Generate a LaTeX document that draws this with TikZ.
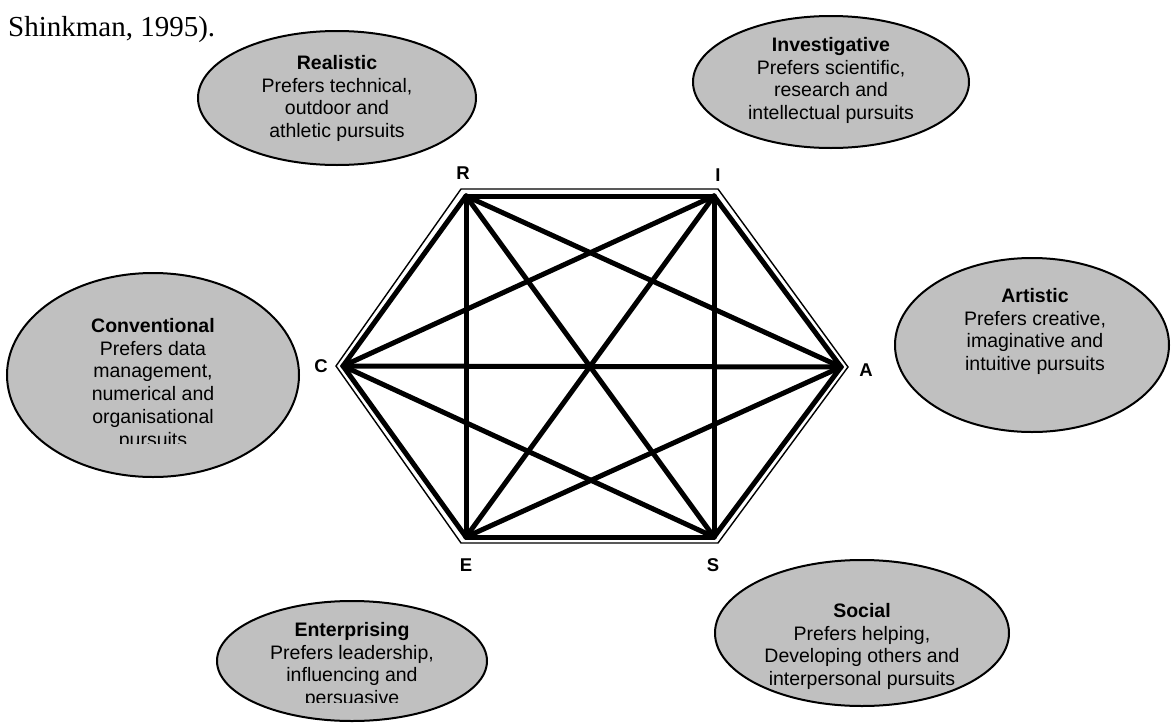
\documentclass[tikz,border=0pt]{standalone}
\usepackage{fontspec}
\setmainfont{Liberation Sans}
\newfontfamily\bodyserif{Liberation Serif}
\usetikzlibrary{shapes.geometric}
\definecolor{ellfill}{HTML}{C0C0C0}
\begin{document}
\begin{tikzpicture}[x=1pt,y=-1pt,
  ell/.style={ellipse, draw=black, line width=2pt, fill=ellfill, inner sep=0pt},
  etext/.style={align=center, inner sep=0pt, anchor=north, font=\fontsize{19.5}{22.8}\selectfont},
  vlabel/.style={font=\bfseries\fontsize{18.5}{20}\selectfont, inner sep=0pt},
  hexedge/.style={line width=5pt, line cap=round},
  hexoutline/.style={line width=1.4pt, line join=miter}]
\useasboundingbox (0,0) rectangle (1171,723);

% body text fragment
\node[anchor=base west, inner sep=0pt, font=\bodyserif\fontsize{29}{34}\selectfont] (cite) at (8,36) {Shinkman, 1995).};

% ellipses
\node[ell, minimum width=278pt, minimum height=134pt] (eR) at (337,98) {};
\node[ell, minimum width=276pt, minimum height=132pt] (eI) at (831,82) {};
\node[ell, minimum width=274pt, minimum height=174pt] (eA) at (1032,345) {};
\node[ell, minimum width=292pt, minimum height=204pt] (eC) at (153,375) {};
\node[ell, minimum width=270pt, minimum height=120pt] (eE) at (352,661) {};
\node[ell, minimum width=294pt, minimum height=146pt] (eS) at (862,633) {};

% ellipse texts
\node[etext] (tR) at (337,55) {\textbf{Realistic}\\Prefers technical,\\outdoor and\\athletic pursuits};
\node[etext] (tI) at (831,37) {\textbf{Investigative}\\Prefers scientific,\\research and\\intellectual pursuits};
\node[etext] (tA) at (1035,288) {\textbf{Artistic}\\Prefers creative,\\imaginative and\\intuitive pursuits};
\begin{scope}
\clip (0,250) rectangle (320,443);
\node[etext] (tC) at (153,318) {\textbf{Conventional}\\Prefers data\\management,\\numerical and\\organisational\\pursuits};
\end{scope}
\begin{scope}
\clip (200,590) rectangle (500,702);
\node[etext] (tE) at (352,622) {\textbf{Enterprising}\\Prefers leadership,\\influencing and\\persuasive};
\end{scope}
\node[etext] (tS) at (862,603) {\textbf{Social}\\Prefers helping,\\Developing others and\\interpersonal pursuits};

% hexagon vertices (thick lines)
\coordinate (R) at (466,196);
\coordinate (I) at (714,196);
\coordinate (A) at (841,367);
\coordinate (S) at (714,537);
\coordinate (E) at (466,537);
\coordinate (C) at (343,366);
% outer thin hexagon
\coordinate (Ro) at (461,189);
\coordinate (Io) at (718,189);
\coordinate (Ao) at (848,367);
\coordinate (So) at (718,543);
\coordinate (Eo) at (461,543);
\coordinate (Co) at (336,366);

\draw[hexoutline] (Ro) -- (Io) -- (Ao) -- (So) -- (Eo) -- (Co) -- cycle;

\draw[hexedge] (R) -- (I);
\draw[hexedge] (I) -- (A);
\draw[hexedge] (A) -- (S);
\draw[hexedge] (S) -- (E);
\draw[hexedge] (E) -- (C);
\draw[hexedge] (C) -- (R);
\draw[hexedge] (R) -- (A);
\draw[hexedge] (R) -- (S);
\draw[hexedge] (R) -- (E);
\draw[hexedge] (I) -- (S);
\draw[hexedge] (I) -- (E);
\draw[hexedge] (I) -- (C);
\draw[hexedge] (A) -- (E);
\draw[hexedge] (A) -- (C);
\draw[hexedge] (S) -- (C);

% vertex labels
\node[vlabel] (lR) at (463,173) {R};
\node[vlabel] (lI) at (718,175) {I};
\node[vlabel] (lA) at (866,370) {A};
\node[vlabel] (lS) at (713,565) {S};
\node[vlabel] (lE) at (466,565) {E};
\node[vlabel] (lC) at (321,366) {C};
\end{tikzpicture}
\end{document}
